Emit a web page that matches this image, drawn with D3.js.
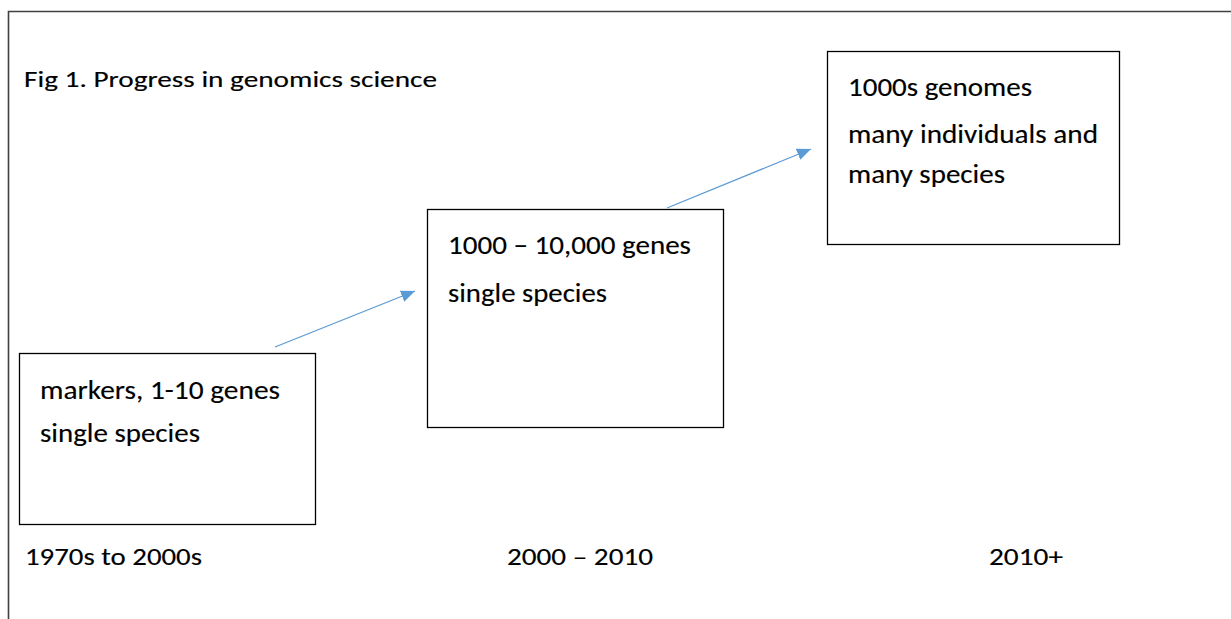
<!DOCTYPE html>
<html>
<head>
<meta charset="utf-8">
<script src="https://cdn.jsdelivr.net/npm/d3@7"></script>
<style>
  body { margin: 0; background: #fff; }
  text { font-family: Carlito, Calibri, Lato, "Open Sans", sans-serif; fill: #000; stroke: #000; stroke-width: 0.15px; }
</style>
</head>
<body>
<div id="chart"></div>
<script>
// stages of the figure
var title = "Fig 1. Progress in genomics science";
var stages = ["1970s to 2000s", "2000 – 2010", "2010+"];
var boxLines = [
	["markers, 1-10 genes", "single species"],
	["1000 – 10,000 genes", "single species"],
	["1000s genomes", "many individuals and", "many species"]
];

// layout (pixels), kept apart from the data
var width = 1231, height = 619;
var boxLeft = d3.scaleOrdinal().domain(stages).range([19, 427, 827]);
var boxTop = d3.scaleOrdinal().domain(stages).range([353, 209, 51]);
var boxWidth = d3.scaleOrdinal().domain(stages).range([296, 296, 292]);
var boxHeight = d3.scaleOrdinal().domain(stages).range([171, 218, 193]);
var eraX = d3.scalePoint().domain(stages).range([25, 989]);
var lineBase = [[46, 89], [45, 93], [45, 92, 132]];
var lineWidth = [[240, 160], [243, 159], [184, 250, 157]];
var eraWidth = [177, 146, 74];

var svg = d3.select("#chart").append("svg")
	.attr("width", width)
	.attr("height", height);

// arrow head
svg.append("defs").append("marker")
	.attr("id", "head")
	.attr("markerUnits", "userSpaceOnUse")
	.attr("viewBox", "0 0 14 12")
	.attr("refX", 14).attr("refY", 6)
	.attr("markerWidth", 14).attr("markerHeight", 12)
	.attr("orient", "auto")
	.append("path")
	.attr("d", "M0,0 L14,6 L0,12 Z")
	.attr("fill", "#5b9bd5");

// outer frame, runs off the right and bottom edges
svg.append("path")
	.attr("d", "M8.5," + (height + 5) + " V11.5 H" + (width + 5))
	.attr("fill", "none")
	.attr("stroke", "#404040")
	.attr("stroke-width", 1.6);

svg.append("text")
	.attr("x", 24).attr("y", 87)
	.attr("font-size", 23)
	.attr("textLength", 413).attr("lengthAdjust", "spacingAndGlyphs")
	.text(title);

// boxes
var box = svg.selectAll("g.box")
	.data(stages)
	.enter().append("g")
	.attr("class", "box")
	.attr("transform", function(d) { return "translate(" + boxLeft(d) + "," + boxTop(d) + ")"; });

box.append("rect")
	.attr("x", 0.5).attr("y", 0.5)
	.attr("width", function(d) { return boxWidth(d); })
	.attr("height", function(d) { return boxHeight(d); })
	.attr("fill", "#fff")
	.attr("stroke", "#000")
	.attr("stroke-width", 1.3);

box.each(function(d, i) {
	d3.select(this).selectAll("text")
		.data(boxLines[i])
		.enter().append("text")
		.attr("x", 21)
		.attr("y", function(t, j) { return lineBase[i][j]; })
		.attr("font-size", 27)
		.attr("textLength", function(t, j) { return lineWidth[i][j]; })
		.attr("lengthAdjust", "spacingAndGlyphs")
		.text(function(t) { return t; });
});

// arrows from each box to the next one
var arrows = d3.pairs(stages);
svg.selectAll("line.arrow")
	.data(arrows)
	.enter().append("line")
	.attr("class", "arrow")
	.attr("x1", function(d, i) { return boxLeft(d[0]) + [256, 240][i]; })
	.attr("y1", function(d, i) { return boxTop(d[0]) - [6, 1][i]; })
	.attr("x2", function(d, i) { return boxLeft(d[1]) - [12, 16][i]; })
	.attr("y2", function(d, i) { return boxTop(d[1]) + [82, 98][i]; })
	.attr("stroke", "#5b9bd5")
	.attr("stroke-width", 1.2)
	.attr("marker-end", "url(#head)");

// era labels along the bottom
svg.selectAll("text.era")
	.data(stages)
	.enter().append("text")
	.attr("class", "era")
	.attr("x", function(d) { return eraX(d); })
	.attr("y", 565)
	.attr("font-size", 25)
	.attr("textLength", function(d, i) { return eraWidth[i]; })
	.attr("lengthAdjust", "spacingAndGlyphs")
	.text(function(d) { return d; });
</script>
</body>
</html>
